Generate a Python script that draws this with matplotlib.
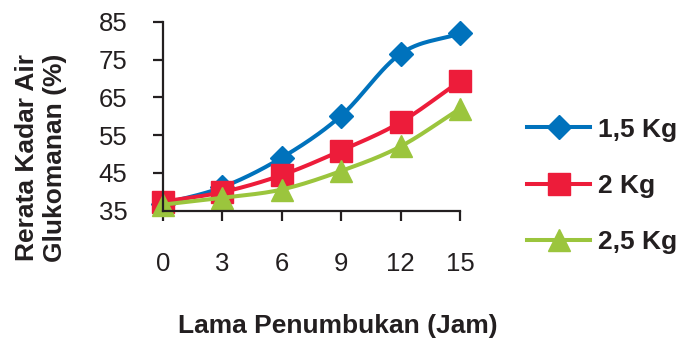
import numpy as np
import matplotlib
matplotlib.use("Agg")
import matplotlib.pyplot as plt

plt.rcParams['font.family'] = ['Liberation Sans', 'DejaVu Sans']

# data
jam = [0, 3, 6, 9, 12, 15]
kg_1_5 = [36.8, 41.2, 49.0, 60.1, 76.5, 81.9]
kg_2 = [37.4, 39.9, 44.4, 50.9, 58.4, 69.3]
kg_2_5 = [36.6, 38.4, 40.6, 45.5, 52.0, 62.0]
labels = ["1,5 Kg", "2 Kg", "2,5 Kg"]
colors = ["#0072BC", "#ED1C3A", "#9BC53D"]
markers = ["D", "s", "^"]
msizes = [12.5, 15.5, 16]

TEXT = "#231F20"
W, H = 681, 339

###############################################################################

def smooth(x, y, n=30):
    ''' Catmull-Rom curve through the points (like a "smoothed line") '''
    x = np.asarray(x, float)
    y = np.asarray(y, float)
    px = np.concatenate([[2 * x[0] - x[1]], x, [2 * x[-1] - x[-2]]])
    py = np.concatenate([[2 * y[0] - y[1]], y, [2 * y[-1] - y[-2]]])
    xs, ys = [], []
    t = np.linspace(0, 1, n)
    for i in range(1, len(px) - 2):
        for p, out in ((px, xs), (py, ys)):
            p0, p1, p2, p3 = p[i - 1], p[i], p[i + 1], p[i + 2]
            seg = 0.5 * ((2 * p1) + (-p0 + p2) * t
                         + (2 * p0 - 5 * p1 + 4 * p2 - p3) * t ** 2
                         + (-p0 + 3 * p1 - 3 * p2 + p3) * t ** 3)
            out.extend(seg)
    return np.array(xs), np.array(ys)

###############################################################################

fig = plt.figure(figsize=(W / 100, H / 100), dpi=100)
ax = fig.add_axes([162.7 / W, 1 - 210.7 / H, 297.3 / W, 189 / H])

for ys, lab, c, m, ms in zip([kg_1_5, kg_2, kg_2_5], labels, colors, markers, msizes):
    sx, sy = smooth(jam, ys)
    ax.plot(sx, sy, color=c, lw=2.9, clip_on=False, solid_capstyle="round")
    ax.plot(jam, ys, ls="none", marker=m, ms=ms, color=c, mec=c, clip_on=False)
    ax.plot([], [], color=c, lw=2.9, marker=m, ms=ms, mec=c, label=lab)

ax.set_xlim(0, 15)
ax.set_ylim(35, 85)
ax.set_xticks(jam)
ax.set_yticks([35, 45, 55, 65, 75, 85])
for s in ("top", "right"):
    ax.spines[s].set_visible(False)
for s in ("left", "bottom"):
    ax.spines[s].set_linewidth(1.6)
    ax.spines[s].set_color(TEXT)
ax.tick_params(axis="both", direction="out", length=7.5, width=1.6, color=TEXT,
               labelsize=18.5, labelcolor=TEXT)
ax.tick_params(axis="x", pad=22)
ax.tick_params(axis="y", pad=18)

fig.text(337.5 / W, 1 - 326 / H, "Lama Penumbukan (Jam)", fontsize=19,
         fontweight="bold", color=TEXT, ha="center", va="center")
fig.text(41 / W, 1 - 157.5 / H, "Rerata Kadar Air\nGlukomanan (%)",
         fontsize=19, fontweight="bold", color=TEXT, rotation=90,
         ha="center", va="center", multialignment="center", linespacing=1.25)

fig.legend(loc="center left", bbox_to_anchor=(527 / W, 1 - 186 / H),
           frameon=False, borderpad=0, borderaxespad=0,
           prop={"size": 19, "weight": "bold"}, labelcolor=TEXT,
           handlelength=2.4, handletextpad=0.3, labelspacing=1.23)

fig.savefig("out.png", dpi=100)
